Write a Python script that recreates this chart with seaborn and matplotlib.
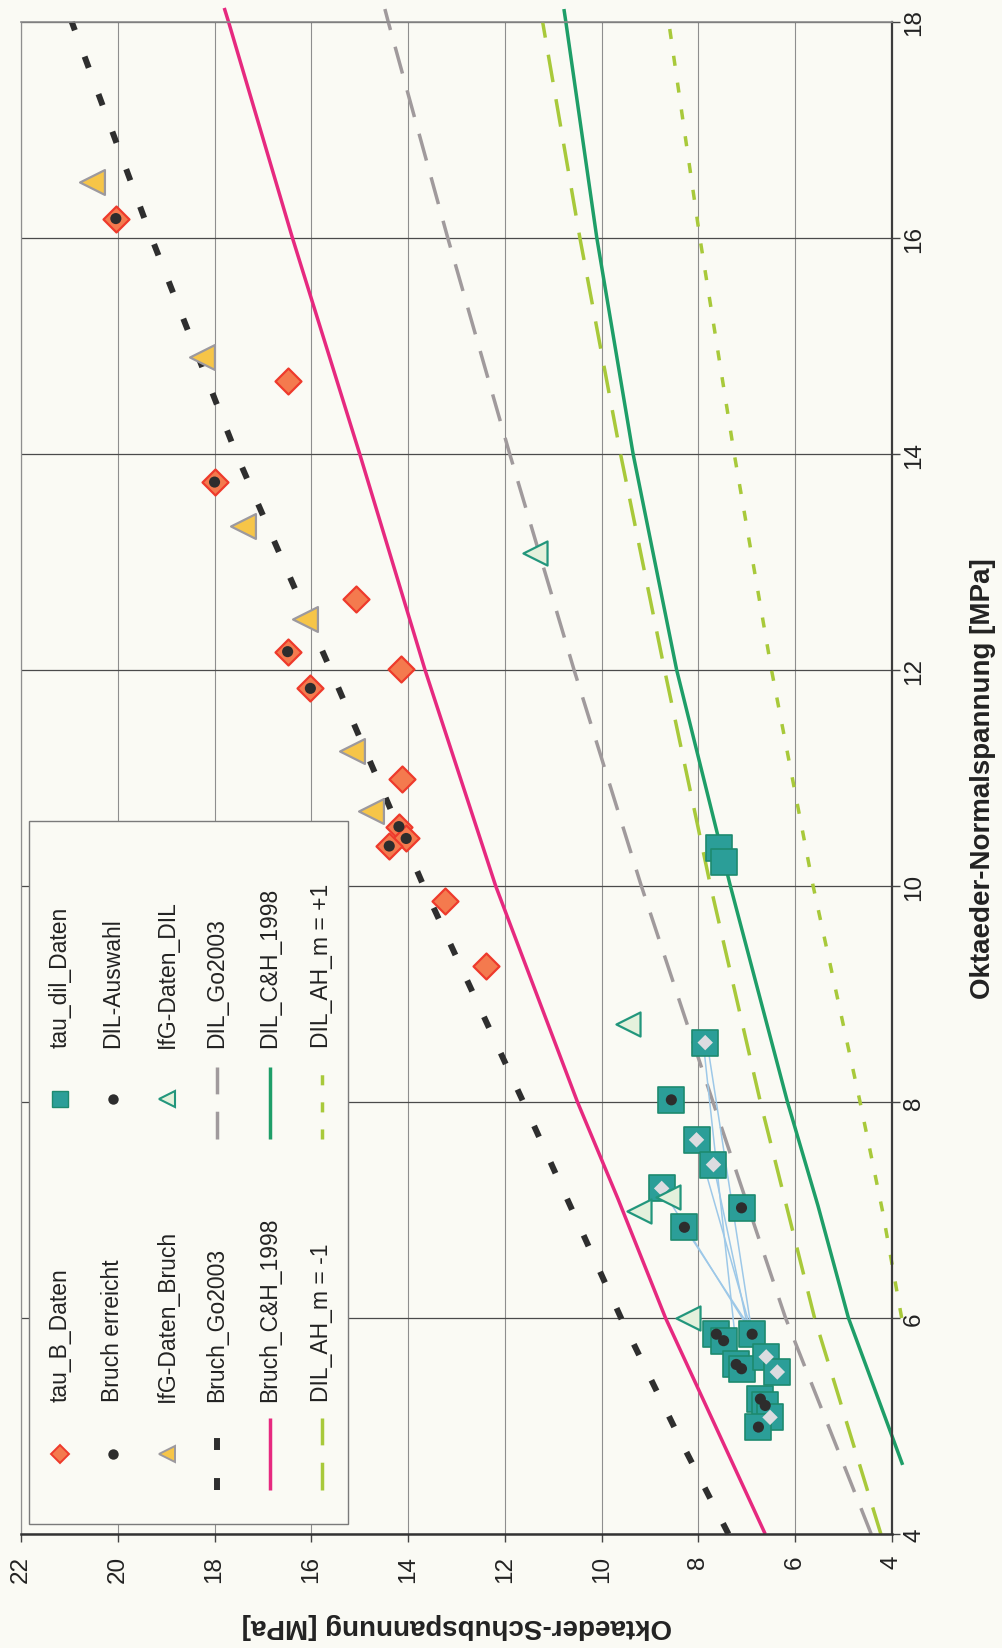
import matplotlib
matplotlib.use("Agg")
import matplotlib.pyplot as plt
import pandas as pd
import seaborn as sns
from matplotlib.lines import Line2D
from matplotlib.patches import Rectangle

# ---------------------------------------------------------------------------
# Measured data: octahedral normal stress (sigma) and shear stress (tau), MPa
# ---------------------------------------------------------------------------
tau_b_sigma = [16.18, 14.68, 13.74, 12.66, 12.17, 11.83, 12.01, 10.99, 10.55, 10.44, 10.37, 9.86, 9.26]
tau_b_tau = [20.04, 16.49, 18.00, 15.07, 16.49, 16.02, 14.14, 14.12, 14.19, 14.04, 14.39, 13.24, 12.39]

bruch_sigma = [16.18, 13.74, 12.17, 11.83, 10.55, 10.44, 10.37]
bruch_tau = [20.04, 18.00, 16.49, 16.02, 14.19, 14.04, 14.39]

ifg_bruch_sigma = [16.52, 14.90, 13.33, 12.47, 11.25, 10.69]
ifg_bruch_tau = [20.54, 18.25, 17.42, 16.14, 15.15, 14.76]

ifg_dil_sigma = [13.08, 8.72, 7.12, 6.99, 6.00]
ifg_dil_tau = [11.38, 9.46, 8.62, 9.22, 8.21]

tau_dil_sigma = [10.35, 10.22, 8.55, 8.02, 7.65, 7.42, 7.20, 7.02, 6.84,
                 5.85, 5.79, 5.85, 5.57, 5.53, 5.64, 5.50, 5.25, 5.19, 5.08, 4.99]
tau_dil_tau = [7.58, 7.47, 7.86, 8.56, 8.04, 7.69, 8.76, 7.11, 8.29,
               7.63, 7.48, 6.89, 7.22, 7.11, 6.60, 6.37, 6.72, 6.62, 6.52, 6.76]

dil_auswahl_sigma = [8.02, 7.02, 6.84, 5.85, 5.79, 5.85, 5.57, 5.53, 5.25, 5.19, 4.99]
dil_auswahl_tau = [8.56, 7.11, 8.29, 7.63, 7.48, 6.89, 7.22, 7.11, 6.72, 6.62, 6.76]

dil_mark_sigma = [8.55, 7.65, 7.42, 7.20, 5.64, 5.50, 5.08]
dil_mark_tau = [7.86, 8.04, 7.69, 8.76, 6.60, 6.37, 6.52]

# pairs of tests linked by thin connectors
link_sigma_start = [8.55, 8.55, 7.65, 7.42, 7.20, 6.84]
link_tau_start = [7.90, 7.82, 8.04, 7.69, 8.76, 8.29]
link_sigma_end = [5.57, 5.85, 5.85, 5.85, 5.85, 5.85]
link_tau_end = [7.18, 6.89, 6.89, 6.95, 6.89, 6.85]

# ---------------------------------------------------------------------------
# Strength / dilatancy boundaries
# ---------------------------------------------------------------------------
bruch_go_sigma = [4.0, 4.76, 6.0, 8.0, 10.0, 11.0, 12.0, 13.0, 14.0, 16.0, 18.0]
bruch_go_tau = [7.38, 8.25, 9.60, 11.62, 13.68, 14.64, 15.60, 16.58, 17.55, 19.30, 20.95]

bruch_ch_sigma = [4.0, 6.0, 7.1, 8.0, 10.0, 12.0, 14.0, 16.0, 18.0, 18.13]
bruch_ch_tau = [6.62, 8.68, 9.66, 10.50, 12.19, 13.65, 15.00, 16.39, 17.71, 17.80]

dil_go_sigma = [4.0, 6.0, 8.0, 10.0, 12.0, 14.0, 16.0, 18.0, 18.12]
dil_go_tau = [4.43, 6.20, 7.70, 9.18, 10.57, 11.90, 13.18, 14.41, 14.48]

dil_ah_m1_sigma = [4.0, 6.0, 8.0, 10.0, 12.0, 14.0, 16.0, 18.0]
dil_ah_m1_tau = [4.23, 5.60, 6.72, 7.75, 8.70, 9.61, 10.45, 11.22]

dil_ch_sigma = [4.64, 6.0, 7.04, 8.0, 10.0, 12.0, 14.0, 16.0, 18.0, 18.12]
dil_ch_tau = [3.78, 4.90, 5.53, 6.16, 7.34, 8.45, 9.35, 10.10, 10.74, 10.78]

dil_ah_p1_sigma = [6.0, 7.0, 8.0, 10.0, 12.0, 14.0, 16.0, 18.05]
dil_ah_p1_tau = [3.80, 4.20, 4.66, 5.63, 6.49, 7.26, 7.97, 8.63]

tau_ticks = list(range(4, 23, 2))
sigma_ticks = list(range(4, 19, 2))

# ---------------------------------------------------------------------------
# Style
# ---------------------------------------------------------------------------
sns.set_theme(style="white")
plt.rcParams["font.family"] = ["Liberation Sans", "DejaVu Sans"]
plt.rcParams["text.color"] = "#222222"

BG = "#FAFAF4"
TXT = "#222222"
C_RED_FILL, C_RED_EDGE = "#F47A4E", "#EE3A2C"
C_YEL_FILL, C_YEL_EDGE = "#F6C548", "#9C999E"
C_TEAL_FILL, C_TEAL_EDGE = "#2B9E98", "#1D8A6F"
C_DOT = "#2D2D2D"
C_BLACK = "#2E2E2E"
C_PINK = "#E6297F"
C_GREY = "#A09A9C"
C_GREEN = "#1E9E68"
C_YG = "#A8C93A"
C_LINK = "#9DC8E8"

W, H = 1003, 1649
fig = plt.figure(figsize=(W / 100, H / 100), dpi=100, facecolor=BG)
ax = fig.add_axes([21 / W, 1 - 1535 / H, 871 / W, 1512 / H])
ax.set_facecolor(BG)

# rotated layout: shear stress runs horizontally (decreasing to the right),
# normal stress runs vertically
ax.set_xlim(22, 4)
ax.set_ylim(4, 18)
ax.set_xticks(tau_ticks)
ax.set_yticks(sigma_ticks)

ax.xaxis.grid(True, color="#8E8E8E", lw=0.8, zorder=0)
ax.yaxis.grid(True, color="#4A4A4A", lw=0.9, zorder=0)
ax.set_axisbelow(True)

for side, col, lw in [("left", "#8E8E8E", 0.9), ("top", "#8A8A8A", 1.2),
                      ("right", "#3C3C3C", 1.6), ("bottom", "#333333", 1.8)]:
    ax.spines[side].set_color(col)
    ax.spines[side].set_linewidth(lw)
    ax.spines[side].set_visible(True)

ax.tick_params(axis="x", direction="out", length=6, width=1, color="#444444",
               labelsize=17.5, labelcolor=TXT, pad=9, bottom=True, top=False,
               labelrotation=90)
ax.tick_params(axis="y", direction="out", length=6, width=1, color="#444444",
               labelsize=17.5, labelcolor=TXT, pad=2, left=False, right=True,
               labelleft=False, labelright=True, labelrotation=90)
for lab in ax.get_yticklabels():
    lab.set_va("center")

ax.set_xlabel("Oktaeder-Schubspannung [MPa]", fontsize=20, fontweight="bold",
              rotation=180, va="center", ha="center", color=TXT)
ax.xaxis.set_label_coords(0.5, (1535 - 1626) / 1512)
ax.yaxis.set_label_position("right")
ax.set_ylabel("Oktaeder-Normalspannung [MPa]", fontsize=20, fontweight="bold",
              rotation=90, va="center", ha="center", color=TXT)
ax.yaxis.set_label_coords((983 - 21) / 871, 0.5)


# ---------------------------------------------------------------------------
# Curves
# ---------------------------------------------------------------------------
def curve(sig, tau, color, lw, dashes=None):
    sns.lineplot(x=tau, y=sig, ax=ax, sort=False, estimator=None, color=color,
                 lw=lw, clip_on=False, zorder=2)
    line = ax.lines[-1]
    line.set_solid_capstyle("butt")
    line.set_solid_joinstyle("round")
    if dashes is not None:
        line.set_dashes(dashes)
        line.set_dash_capstyle("butt")


curve(dil_ah_p1_sigma, dil_ah_p1_tau, C_YG, 2.5, (2.9, 4.9))
curve(dil_ah_m1_sigma, dil_ah_m1_tau, C_YG, 2.5, (8.0, 5.0))
curve(dil_ch_sigma, dil_ch_tau, C_GREEN, 2.5)
curve(dil_go_sigma, dil_go_tau, C_GREY, 2.5, (8.0, 5.0))
curve(bruch_ch_sigma, bruch_ch_tau, C_PINK, 2.5)
curve(bruch_go_sigma, bruch_go_tau, C_BLACK, 4.3, (2.0, 4.7))

# connectors between related tests
links = pd.DataFrame({
    "link": list(range(len(link_sigma_start))) * 2,
    "sigma": link_sigma_start + link_sigma_end,
    "tau": link_tau_start + link_tau_end,
})
sns.lineplot(data=links, x="tau", y="sigma", units="link", estimator=None,
             sort=False, color=C_LINK, lw=1.1, ax=ax, zorder=2.5)

# ---------------------------------------------------------------------------
# Markers
# ---------------------------------------------------------------------------
sns.scatterplot(x=tau_dil_tau, y=tau_dil_sigma, ax=ax, marker="s", s=330,
                color=C_TEAL_FILL, edgecolor=C_TEAL_EDGE, linewidth=1.2, zorder=4)
sns.scatterplot(x=dil_mark_tau, y=dil_mark_sigma, ax=ax, marker="D", s=62,
                color="#DCDCE0", edgecolor="none", linewidth=0, zorder=5)
sns.scatterplot(x=dil_auswahl_tau, y=dil_auswahl_sigma, ax=ax, marker="o", s=64,
                color=C_DOT, edgecolor="none", linewidth=0, zorder=6)
sns.scatterplot(x=ifg_dil_tau, y=ifg_dil_sigma, ax=ax, marker="<", s=300,
                color="#E4F1DC", edgecolor="#22967C", linewidth=1.6, zorder=5)
sns.scatterplot(x=tau_b_tau, y=tau_b_sigma, ax=ax, marker="D", s=175,
                color=C_RED_FILL, edgecolor=C_RED_EDGE, linewidth=1.6, zorder=4)
sns.scatterplot(x=bruch_tau, y=bruch_sigma, ax=ax, marker="o", s=64,
                color=C_DOT, edgecolor="none", linewidth=0, zorder=6)
sns.scatterplot(x=ifg_bruch_tau, y=ifg_bruch_sigma, ax=ax, marker="<", s=320,
                color=C_YEL_FILL, edgecolor=C_YEL_EDGE, linewidth=1.6, zorder=4)

# ---------------------------------------------------------------------------
# Legend (rotated with the chart)
# ---------------------------------------------------------------------------
def ax_x(px):
    return (px - 21) / 871


def ax_y(py):
    return (1535 - py) / 1512


ax.add_patch(Rectangle((ax_x(29), ax_y(1525)), ax_x(348) - ax_x(29),
                       ax_y(822) - ax_y(1525), transform=ax.transAxes,
                       facecolor=BG, edgecolor="#7A7A7A", lw=1.0, zorder=8))

row_x = [60, 113, 167, 217, 270, 322]
cols = [
    {"marker_y": 1455, "text_y": 1402, "line": (1419, 1491), "entries": [
        ("tau_B_Daten", dict(marker="D", ms=9.5, mfc=C_RED_FILL, mec=C_RED_EDGE, mew=1.4)),
        ("Bruch erreicht", dict(marker="o", ms=7.5, mfc=C_DOT, mec=C_DOT, mew=0)),
        ("IfG-Daten_Bruch", dict(marker="<", ms=12, mfc=C_YEL_FILL, mec=C_YEL_EDGE, mew=1.4)),
        ("Bruch_Go2003", dict(line=(C_BLACK, 4.3, (2.0, 4.7)))),
        ("Bruch_C&H_1998", dict(line=(C_PINK, 2.5, None))),
        ("DIL_AH_m = -1", dict(line=(C_YG, 2.5, (8.0, 5.0)))),
    ]},
    {"marker_y": 1100, "text_y": 1048, "line": (1068, 1140), "entries": [
        ("tau_dil_Daten", dict(marker="s", ms=11.5, mfc=C_TEAL_FILL, mec=C_TEAL_EDGE, mew=1.0)),
        ("DIL-Auswahl", dict(marker="o", ms=7.5, mfc=C_DOT, mec=C_DOT, mew=0)),
        ("IfG-Daten_DIL", dict(marker="<", ms=12, mfc="#E4F1DC", mec="#22967C", mew=1.5)),
        ("DIL_Go2003", dict(line=(C_GREY, 2.5, (8.0, 5.0)))),
        ("DIL_C&H_1998", dict(line=(C_GREEN, 2.5, None))),
        ("DIL_AH_m = +1", dict(line=(C_YG, 2.5, (2.9, 4.9)))),
    ]},
]

for col in cols:
    for px, (label, style) in zip(row_x, col["entries"]):
        if "line" in style:
            color, lw, dashes = style["line"]
            y0, y1 = col["line"]
            ln = Line2D([ax_x(px), ax_x(px)], [ax_y(y1), ax_y(y0)],
                        transform=ax.transAxes, color=color, lw=lw,
                        solid_capstyle="butt", zorder=9)
            if dashes is not None:
                ln.set_dashes(dashes)
                ln.set_dash_capstyle("butt")
        else:
            ln = Line2D([ax_x(px)], [ax_y(col["marker_y"])], transform=ax.transAxes,
                        linestyle="none", zorder=9, **style)
        ax.add_line(ln)
        ax.text(ax_x(px), ax_y(col["text_y"]), label, transform=ax.transAxes,
                rotation=90, ha="center", va="bottom", fontsize=16.5,
                color=TXT, zorder=10)

fig.savefig("out.png", dpi=100, facecolor=BG)
